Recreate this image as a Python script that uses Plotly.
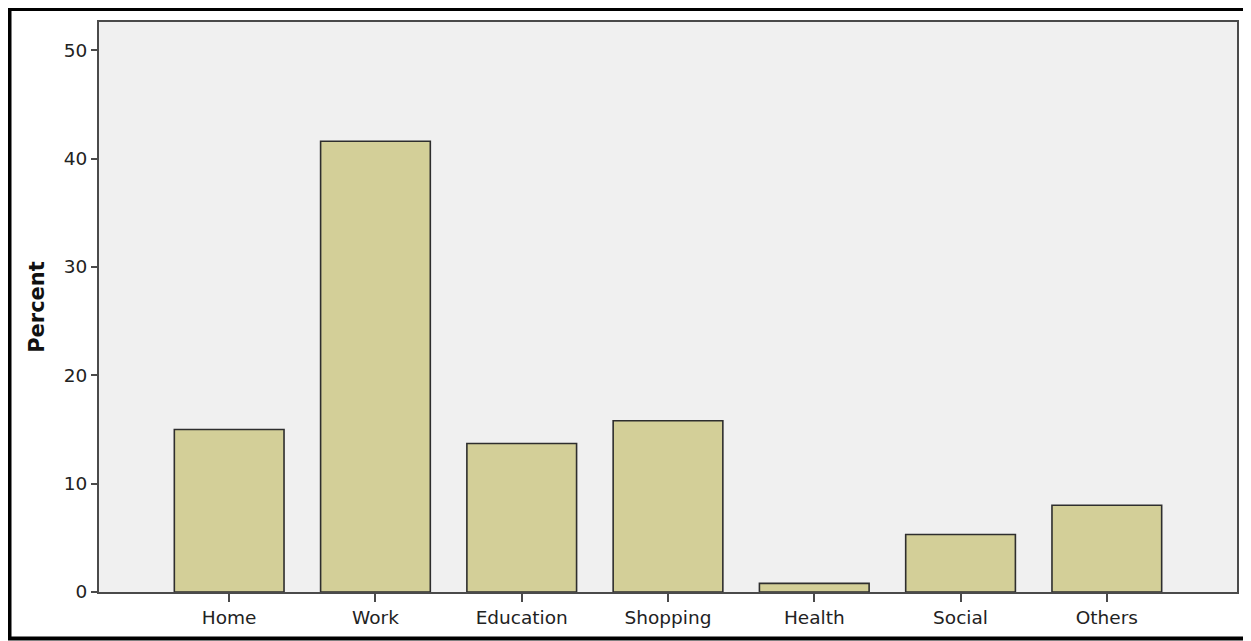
import plotly.graph_objects as go

categories = ["Home", "Work", "Education", "Shopping", "Health", "Social", "Others"]
percent = [15.0, 41.6, 13.7, 15.8, 0.8, 5.3, 8.0]
y_ticks = [0, 10, 20, 30, 40, 50]

W, H = 1251, 641
OFF = 8  # page body margin offset
# plot area in page pixels: x 99..1237, y 22..592
ml = 99 - OFF
mt = 22 - OFF
mr = W - (1237 - OFF)
mb = H - (592 - OFF)
pw, ph = W - ml - mr, H - mt - mb

def fx(px):
    return (px - OFF - ml) / pw

def fy(py):
    return (H - mb - (py - OFF)) / ph

fig = go.Figure(go.Bar(
    x=categories, y=percent, width=0.75,
    marker=dict(color="#d3cf98", line=dict(color="#2e2e2e", width=1.6)),
))

fig.add_shape(type="rect", xref="paper", yref="paper",
              x0=fx(9.5), x1=fx(1246), y0=fy(638.5), y1=fy(9),
              line=dict(color="black", width=4), fillcolor="rgba(0,0,0,0)", layer="above")

fig.update_layout(
    width=W, height=H,
    margin=dict(l=ml, r=mr, t=mt, b=mb),
    paper_bgcolor="white", plot_bgcolor="#f0f0f0",
    font=dict(family="DejaVu Sans, sans-serif", size=18, color="#222"),
    showlegend=False, bargap=0.25,
    xaxis=dict(range=[-0.89, 6.89], showline=True, linecolor="#4a4a4a", linewidth=2, mirror=True,
               ticks="outside", ticklen=8, tickwidth=2, tickcolor="#4a4a4a",
               showgrid=False, tickfont=dict(size=18.5)),
    yaxis=dict(range=[0, 52.6], tickvals=y_ticks, showline=True, linecolor="#4a4a4a", linewidth=2,
               mirror=True, ticks="outside", ticklen=6, tickwidth=2, tickcolor="#4a4a4a",
               showgrid=False, zeroline=False, tickfont=dict(size=18.5),
               title=dict(text="<b>Percent</b>", font=dict(size=21, color="#111"), standoff=13)),
)

fig.write_html("out.html")
